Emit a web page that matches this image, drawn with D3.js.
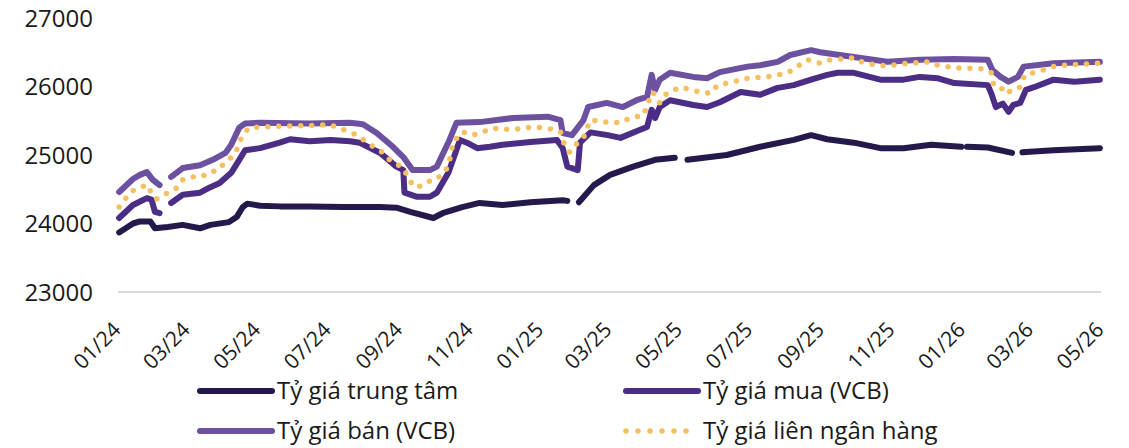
<!DOCTYPE html>
<html>
<head>
<meta charset="utf-8">
<script src="https://cdn.jsdelivr.net/npm/d3@7"></script>
<style>
  body { margin: 0; background: #fff; }
  svg text { font-family: "Open Sans", sans-serif; fill: #1a1a1a; }
</style>
</head>
<body>
<svg id="chart" width="1129" height="448"></svg>
<script>
// Tỷ giá trung tâm
var trungTam = [
  ["2024-01-02", 23870], ["2024-01-14", 24000], ["2024-01-20", 24030], ["2024-01-29", 24030],
  ["2024-02-02", 23930], ["2024-02-13", 23950], ["2024-02-26", 23980], ["2024-03-12", 23930],
  ["2024-03-21", 23980], ["2024-04-06", 24020], ["2024-04-13", 24100], ["2024-04-18", 24240],
  ["2024-04-22", 24290], ["2024-05-03", 24260], ["2024-05-20", 24250], ["2024-06-15", 24250],
  ["2024-07-14", 24240], ["2024-08-15", 24240], ["2024-08-29", 24230], ["2024-09-10", 24170],
  ["2024-09-30", 24080], ["2024-10-08", 24150], ["2024-10-25", 24240], ["2024-11-09", 24300],
  ["2024-11-29", 24270], ["2024-12-23", 24310], ["2025-01-20", 24340], ["2025-01-24", 24330],
  ["2025-01-28", null],
  ["2025-02-03", 24310], ["2025-02-16", 24560], ["2025-03-02", 24710], ["2025-03-22", 24830],
  ["2025-04-10", 24930], ["2025-04-27", 24960],
  ["2025-04-30", null],
  ["2025-05-08", 24930], ["2025-06-11", 25000], ["2025-07-10", 25120], ["2025-08-08", 25220],
  ["2025-08-23", 25290], ["2025-09-06", 25230], ["2025-09-29", 25180], ["2025-10-22", 25100],
  ["2025-11-11", 25100], ["2025-12-05", 25150], ["2025-12-31", 25120],
  ["2026-01-01", null],
  ["2026-01-05", 25120], ["2026-01-23", 25110], ["2026-02-13", 25030],
  ["2026-02-17", null],
  ["2026-02-22", 25040], ["2026-03-21", 25070], ["2026-04-30", 25100]
];

// Tỷ giá mua (VCB)
var muaVCB = [
  ["2024-01-02", 24080], ["2024-01-14", 24270], ["2024-01-26", 24370], ["2024-01-30", 24350],
  ["2024-02-02", 24170], ["2024-02-06", 24150],
  ["2024-02-10", null],
  ["2024-02-16", 24300], ["2024-02-26", 24420], ["2024-03-12", 24450], ["2024-03-21", 24530],
  ["2024-03-29", 24590], ["2024-04-08", 24740], ["2024-04-15", 24930], ["2024-04-20", 25070],
  ["2024-05-03", 25100], ["2024-05-20", 25180], ["2024-05-29", 25230], ["2024-06-15", 25200],
  ["2024-07-03", 25220], ["2024-07-20", 25200], ["2024-07-28", 25180], ["2024-08-15", 25030],
  ["2024-08-29", 24830], ["2024-09-04", 24780], ["2024-09-05", 24450], ["2024-09-16", 24390],
  ["2024-09-27", 24390], ["2024-10-03", 24450], ["2024-10-13", 24740], ["2024-10-17", 24930],
  ["2024-10-23", 25220], ["2024-10-29", 25180], ["2024-11-07", 25100], ["2024-11-18", 25120],
  ["2024-11-29", 25150], ["2024-12-23", 25190], ["2025-01-15", 25220], ["2025-01-20", 25100],
  ["2025-01-24", 24830], ["2025-02-02", 24780], ["2025-02-04", 25180], ["2025-02-13", 25330],
  ["2025-02-28", 25290], ["2025-03-11", 25250], ["2025-03-28", 25370], ["2025-04-03", 25410],
  ["2025-04-07", 25660], ["2025-04-10", 25540], ["2025-04-14", 25700], ["2025-04-23", 25800],
  ["2025-05-13", 25730], ["2025-05-25", 25700], ["2025-06-05", 25770], ["2025-06-23", 25920],
  ["2025-07-10", 25880], ["2025-07-25", 25980], ["2025-08-08", 26020], ["2025-08-23", 26100],
  ["2025-09-06", 26170], ["2025-09-15", 26200], ["2025-09-29", 26200], ["2025-10-22", 26100],
  ["2025-11-11", 26100], ["2025-11-25", 26140], ["2025-12-11", 26120], ["2025-12-25", 26050],
  ["2026-01-23", 26020], ["2026-01-26", 25900], ["2026-01-30", 25700], ["2026-02-05", 25750],
  ["2026-02-10", 25630], ["2026-02-14", 25730], ["2026-02-20", 25760], ["2026-02-25", 25950],
  ["2026-03-04", 25990], ["2026-03-21", 26100], ["2026-04-08", 26070], ["2026-04-30", 26100]
];

// Tỷ giá bán (VCB)
var banVCB = [
  ["2024-01-02", 24460], ["2024-01-14", 24650], ["2024-01-20", 24710], ["2024-01-26", 24750],
  ["2024-01-31", 24640], ["2024-02-06", 24560],
  ["2024-02-10", null],
  ["2024-02-16", 24680], ["2024-02-26", 24810], ["2024-03-12", 24850], ["2024-03-23", 24930],
  ["2024-04-03", 25030], ["2024-04-08", 25150], ["2024-04-15", 25400], ["2024-04-20", 25460],
  ["2024-05-03", 25470], ["2024-06-15", 25460], ["2024-07-20", 25470], ["2024-07-31", 25450],
  ["2024-08-12", 25320], ["2024-08-26", 25120], ["2024-09-04", 24970], ["2024-09-12", 24780],
  ["2024-09-27", 24780], ["2024-10-03", 24830], ["2024-10-14", 25220], ["2024-10-20", 25470],
  ["2024-11-09", 25480], ["2024-12-08", 25540], ["2025-01-07", 25560], ["2025-01-18", 25510],
  ["2025-01-20", 25320], ["2025-01-28", 25290], ["2025-02-07", 25510], ["2025-02-11", 25700],
  ["2025-02-27", 25760], ["2025-03-13", 25700], ["2025-03-25", 25800], ["2025-04-03", 25850],
  ["2025-04-07", 26170], ["2025-04-10", 25950], ["2025-04-14", 26100], ["2025-04-23", 26200],
  ["2025-05-13", 26140], ["2025-05-25", 26120], ["2025-06-05", 26210], ["2025-06-29", 26290],
  ["2025-07-10", 26310], ["2025-07-25", 26360], ["2025-08-05", 26460], ["2025-08-23", 26530],
  ["2025-08-31", 26500], ["2025-09-29", 26430], ["2025-10-28", 26360], ["2025-11-25", 26390],
  ["2025-12-25", 26400], ["2026-01-23", 26390], ["2026-01-27", 26240], ["2026-02-03", 26140],
  ["2026-02-10", 26070], ["2026-02-18", 26140], ["2026-02-23", 26290], ["2026-03-21", 26340],
  ["2026-04-30", 26360]
];

// Tỷ giá liên ngân hàng
var lienNganHang = [
  ["2024-01-02", 24240], ["2024-01-12", 24460], ["2024-01-19", 24530], ["2024-01-27", 24560],
  ["2024-01-31", 24390], ["2024-02-04", 24360], ["2024-02-13", 24450], ["2024-02-21", 24520],
  ["2024-02-26", 24640], ["2024-03-05", 24680], ["2024-03-12", 24670], ["2024-03-21", 24750],
  ["2024-03-28", 24780], ["2024-04-03", 24900], ["2024-04-11", 25000], ["2024-04-18", 25300],
  ["2024-04-24", 25400], ["2024-05-20", 25420], ["2024-06-15", 25430], ["2024-07-03", 25440],
  ["2024-07-14", 25370], ["2024-07-26", 25290], ["2024-08-06", 25150], ["2024-08-15", 25070],
  ["2024-08-23", 24930], ["2024-09-04", 24810], ["2024-09-10", 24610], ["2024-09-16", 24520],
  ["2024-09-25", 24610], ["2024-10-03", 24640], ["2024-10-13", 24830], ["2024-10-17", 25180],
  ["2024-10-25", 25340], ["2024-11-03", 25290], ["2024-11-12", 25340], ["2024-11-20", 25390],
  ["2024-12-08", 25370], ["2024-12-25", 25410], ["2025-01-07", 25390], ["2025-01-18", 25340],
  ["2025-01-22", 25120], ["2025-01-26", 25040], ["2025-02-02", 25180], ["2025-02-07", 25250],
  ["2025-02-10", 25390], ["2025-02-13", 25510], ["2025-02-28", 25480], ["2025-03-11", 25470],
  ["2025-03-19", 25540], ["2025-03-31", 25580], ["2025-04-04", 25770], ["2025-04-08", 25920],
  ["2025-04-14", 25760], ["2025-04-20", 25900], ["2025-05-02", 25990], ["2025-05-19", 25920],
  ["2025-05-28", 25900], ["2025-06-03", 26020], ["2025-06-17", 26070], ["2025-06-29", 26120],
  ["2025-07-16", 26140], ["2025-08-03", 26200], ["2025-08-20", 26390], ["2025-08-31", 26340],
  ["2025-09-09", 26390], ["2025-09-29", 26420], ["2025-10-08", 26340], ["2025-10-28", 26300],
  ["2025-11-14", 26340], ["2025-12-03", 26360], ["2025-12-12", 26300], ["2025-12-29", 26270],
  ["2026-01-17", 26260], ["2026-01-26", 26200], ["2026-01-28", 26020], ["2026-02-03", 25990],
  ["2026-02-09", 25890], ["2026-02-12", 25950], ["2026-02-20", 25990], ["2026-02-24", 26170],
  ["2026-03-04", 26200], ["2026-03-12", 26240], ["2026-03-19", 26290], ["2026-03-30", 26310],
  ["2026-04-20", 26330], ["2026-04-28", 26340]
];

var yTicks = [23000, 24000, 25000, 26000, 27000];
var xTicks = ["2024-01-01", "2024-03-01", "2024-05-01", "2024-07-01", "2024-09-01", "2024-11-01",
  "2025-01-01", "2025-03-01", "2025-05-01", "2025-07-01", "2025-09-01", "2025-11-01",
  "2026-01-01", "2026-03-01", "2026-05-01"];

var series = [
  { name: "Tỷ giá trung tâm", data: trungTam, color: "#25194b", dotted: false },
  { name: "Tỷ giá mua (VCB)", data: muaVCB, color: "#4b2d86", dotted: false },
  { name: "Tỷ giá bán (VCB)", data: banVCB, color: "#6b51a0", dotted: false },
  { name: "Tỷ giá liên ngân hàng", data: lienNganHang, color: "#f5c061", dotted: true }
];

var parse = d3.timeParse("%Y-%m-%d");
var svg = d3.select("#chart");

var x = d3.scaleTime()
  .domain([parse("2024-01-01"), parse("2026-05-01")])
  .range([118, 1101]);
var y = d3.scaleLinear()
  .domain([23000, 27000])
  .range([292, 18]);

// baseline
svg.append("line")
  .attr("x1", x.range()[0]).attr("x2", x.range()[1])
  .attr("y1", y(23000)).attr("y2", y(23000))
  .attr("stroke", "#d9d9d9").attr("stroke-width", 2);

// y labels
svg.append("g").selectAll("text")
  .data(yTicks)
  .enter().append("text")
  .attr("x", 93)
  .attr("y", function(d){ return y(d); })
  .attr("dy", "0.36em")
  .attr("text-anchor", "end")
  .style("font-size", "24px")
  .text(function(d){ return d; });

// x labels
var fmt = d3.timeFormat("%m/%y");
svg.append("g").selectAll("text")
  .data(xTicks)
  .enter().append("text")
  .attr("transform", function(d){ return "translate(" + (x(parse(d)) + 4) + ",331) rotate(-45)"; })
  .attr("text-anchor", "end")
  .style("font-size", "21px")
  .text(function(d){ return fmt(parse(d)); });

var line = d3.line()
  .defined(function(d){ return d[1] !== null; })
  .x(function(d){ return x(parse(d[0])); })
  .y(function(d){ return y(d[1]); });

series.forEach(function(s){
  var p = svg.append("path")
    .datum(s.data)
    .attr("d", line)
    .attr("fill", "none")
    .attr("stroke", s.color)
    .attr("stroke-linecap", "round")
    .attr("stroke-linejoin", "round")
    .attr("stroke-width", s.dotted ? 5.5 : 6);
  if (s.dotted) p.attr("stroke-dasharray", "0 11");
});

// legend
var legend = svg.append("g");
var legendPos = [[200, 391], [626, 391], [200, 431], [626, 431]];
series.forEach(function(s, i){
  var lx = legendPos[i][0], ly = legendPos[i][1];
  var l = legend.append("line")
    .attr("x1", lx).attr("x2", lx + 72)
    .attr("y1", ly).attr("y2", ly)
    .attr("stroke", s.color)
    .attr("stroke-linecap", "round")
    .attr("stroke-width", s.dotted ? 5.5 : 6);
  if (s.dotted) l.attr("stroke-dasharray", "0 12");
  legend.append("text")
    .attr("x", lx + 77)
    .attr("y", ly)
    .attr("dy", "0.35em")
    .style("font-size", "24px")
    .text(s.name);
});
</script>
</body>
</html>
